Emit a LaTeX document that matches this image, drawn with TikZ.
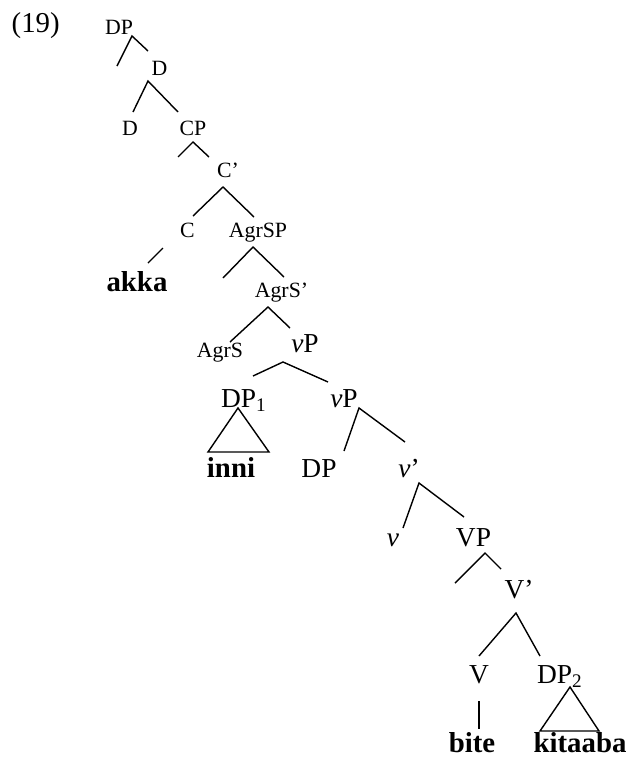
\documentclass[tikz,border=0pt]{standalone}
\usepackage{fontspec}
\setmainfont{Liberation Serif}

\begin{document}
\begin{tikzpicture}[x=0.15mm,y=-0.15mm,line width=0.6pt,
    lab/.style={anchor=base,inner sep=0pt,font=\fontsize{9.3}{11}\selectfont},
    cat/.style={anchor=base,inner sep=0pt,font=\fontsize{11.7}{14}\selectfont},
    lex/.style={anchor=base,inner sep=0pt,font=\fontsize{12.3}{14}\selectfont\bfseries}]
  \useasboundingbox (0,0) rectangle (630,757);
  \node[cat,anchor=base west,font=\fontsize{12.3}{14}\selectfont] (num) at (11,32) {(19)};

  % upper part of the tree
  \node[lab] (dp)      at (119,35)  {DP};
  \node[lab] (dbar)    at (159.5,75) {D};
  \node[lab] (d)       at (130,135) {D};
  \node[lab] (cp)      at (193,135) {CP};
  \node[lab] (cbar)    at (228,177) {C'};
  \node[lab] (c)       at (187.5,237) {C};
  \node[lab] (agrsp)   at (258,237) {AgrSP};
  \node[lex] (akka)    at (137,291) {akka};
  \node[lab] (agrsbar) at (281.5,297) {AgrS'};
  \node[lab] (agrs)    at (220,357) {AgrS};

  % lower part
  \node[cat] (vp)      at (305,352) {\textit{v}P};
  \node[cat] (dpa)     at (244,407) {DP\textsubscript{1}};
  \node[cat] (vpb)     at (344,407) {\textit{v}P};
  \node[lex] (inni)    at (231,477) {inni};
  \node[cat] (dpt)     at (319,477) {DP};
  \node[cat] (vbar)    at (409,477) {\textit{v}'};
  \node[cat] (v)       at (393,546) {\textit{v}};
  \node[cat] (vpc)     at (473.5,546) {VP};
  \node[cat] (verbbar) at (519,598) {V'};
  \node[cat] (verb)    at (479,683) {V};
  \node[cat] (dpb)     at (560,683) {DP\textsubscript{2}};
  \node[lex] (bite)    at (472,752) {bite};
  \node[lex] (kitaaba) at (580,752) {kitaaba};

  % branch points: top, left end, right end
  \coordinate (dp-t) at (132,36);   \coordinate (dp-l) at (117,66);   \coordinate (dp-r) at (148,51);
  \coordinate (dbar-t) at (148,81); \coordinate (dbar-l) at (133,112); \coordinate (dbar-r) at (178,112);
  \coordinate (cp-t) at (193,142);  \coordinate (cp-l) at (178,157);  \coordinate (cp-r) at (209,157);
  \coordinate (cbar-t) at (223,187); \coordinate (cbar-l) at (193,216); \coordinate (cbar-r) at (254,217);
  \coordinate (agrsp-t) at (253,247); \coordinate (agrsp-l) at (223,278); \coordinate (agrsp-r) at (284,277);
  \coordinate (agrsbar-t) at (268,307); \coordinate (agrsbar-l) at (230,342); \coordinate (agrsbar-r) at (290,328);
  \coordinate (vp-t) at (283,362);  \coordinate (vp-l) at (253,376);  \coordinate (vp-r) at (328,382);
  \coordinate (vpb-t) at (359,408); \coordinate (vpb-l) at (344,451); \coordinate (vpb-r) at (405,442);
  \coordinate (vbar-t) at (419,483); \coordinate (vbar-l) at (403,528); \coordinate (vbar-r) at (464,517);
  \coordinate (vpc-t) at (485,553); \coordinate (vpc-l) at (455,583); \coordinate (vpc-r) at (501,569);
  \coordinate (verbbar-t) at (516,613); \coordinate (verbbar-l) at (479,656); \coordinate (verbbar-r) at (540,656);
  \foreach \n in {dp,dbar,cp,cbar,agrsp,agrsbar,vp,vpb,vbar,vpc,verbbar}
    \draw (\n-l) -- (\n-t) -- (\n-r);

  % C down to akka, V down to bite
  \coordinate (c-t) at (163,248);   \coordinate (c-b) at (148,263);
  \draw (c-t) -- (c-b);
  \coordinate (verb-t) at (479,701); \coordinate (verb-b) at (479,729);
  \draw (verb-t) -- (verb-b);

  % triangles
  \coordinate (dpa-t) at (238,408); \coordinate (dpa-l) at (208,452); \coordinate (dpa-r) at (269,452);
  \coordinate (dpb-t) at (570,687); \coordinate (dpb-l) at (540,731); \coordinate (dpb-r) at (599,731);
  \foreach \n in {dpa,dpb}
    \draw (\n-t) -- (\n-l) -- (\n-r) -- cycle;
\end{tikzpicture}
\end{document}
